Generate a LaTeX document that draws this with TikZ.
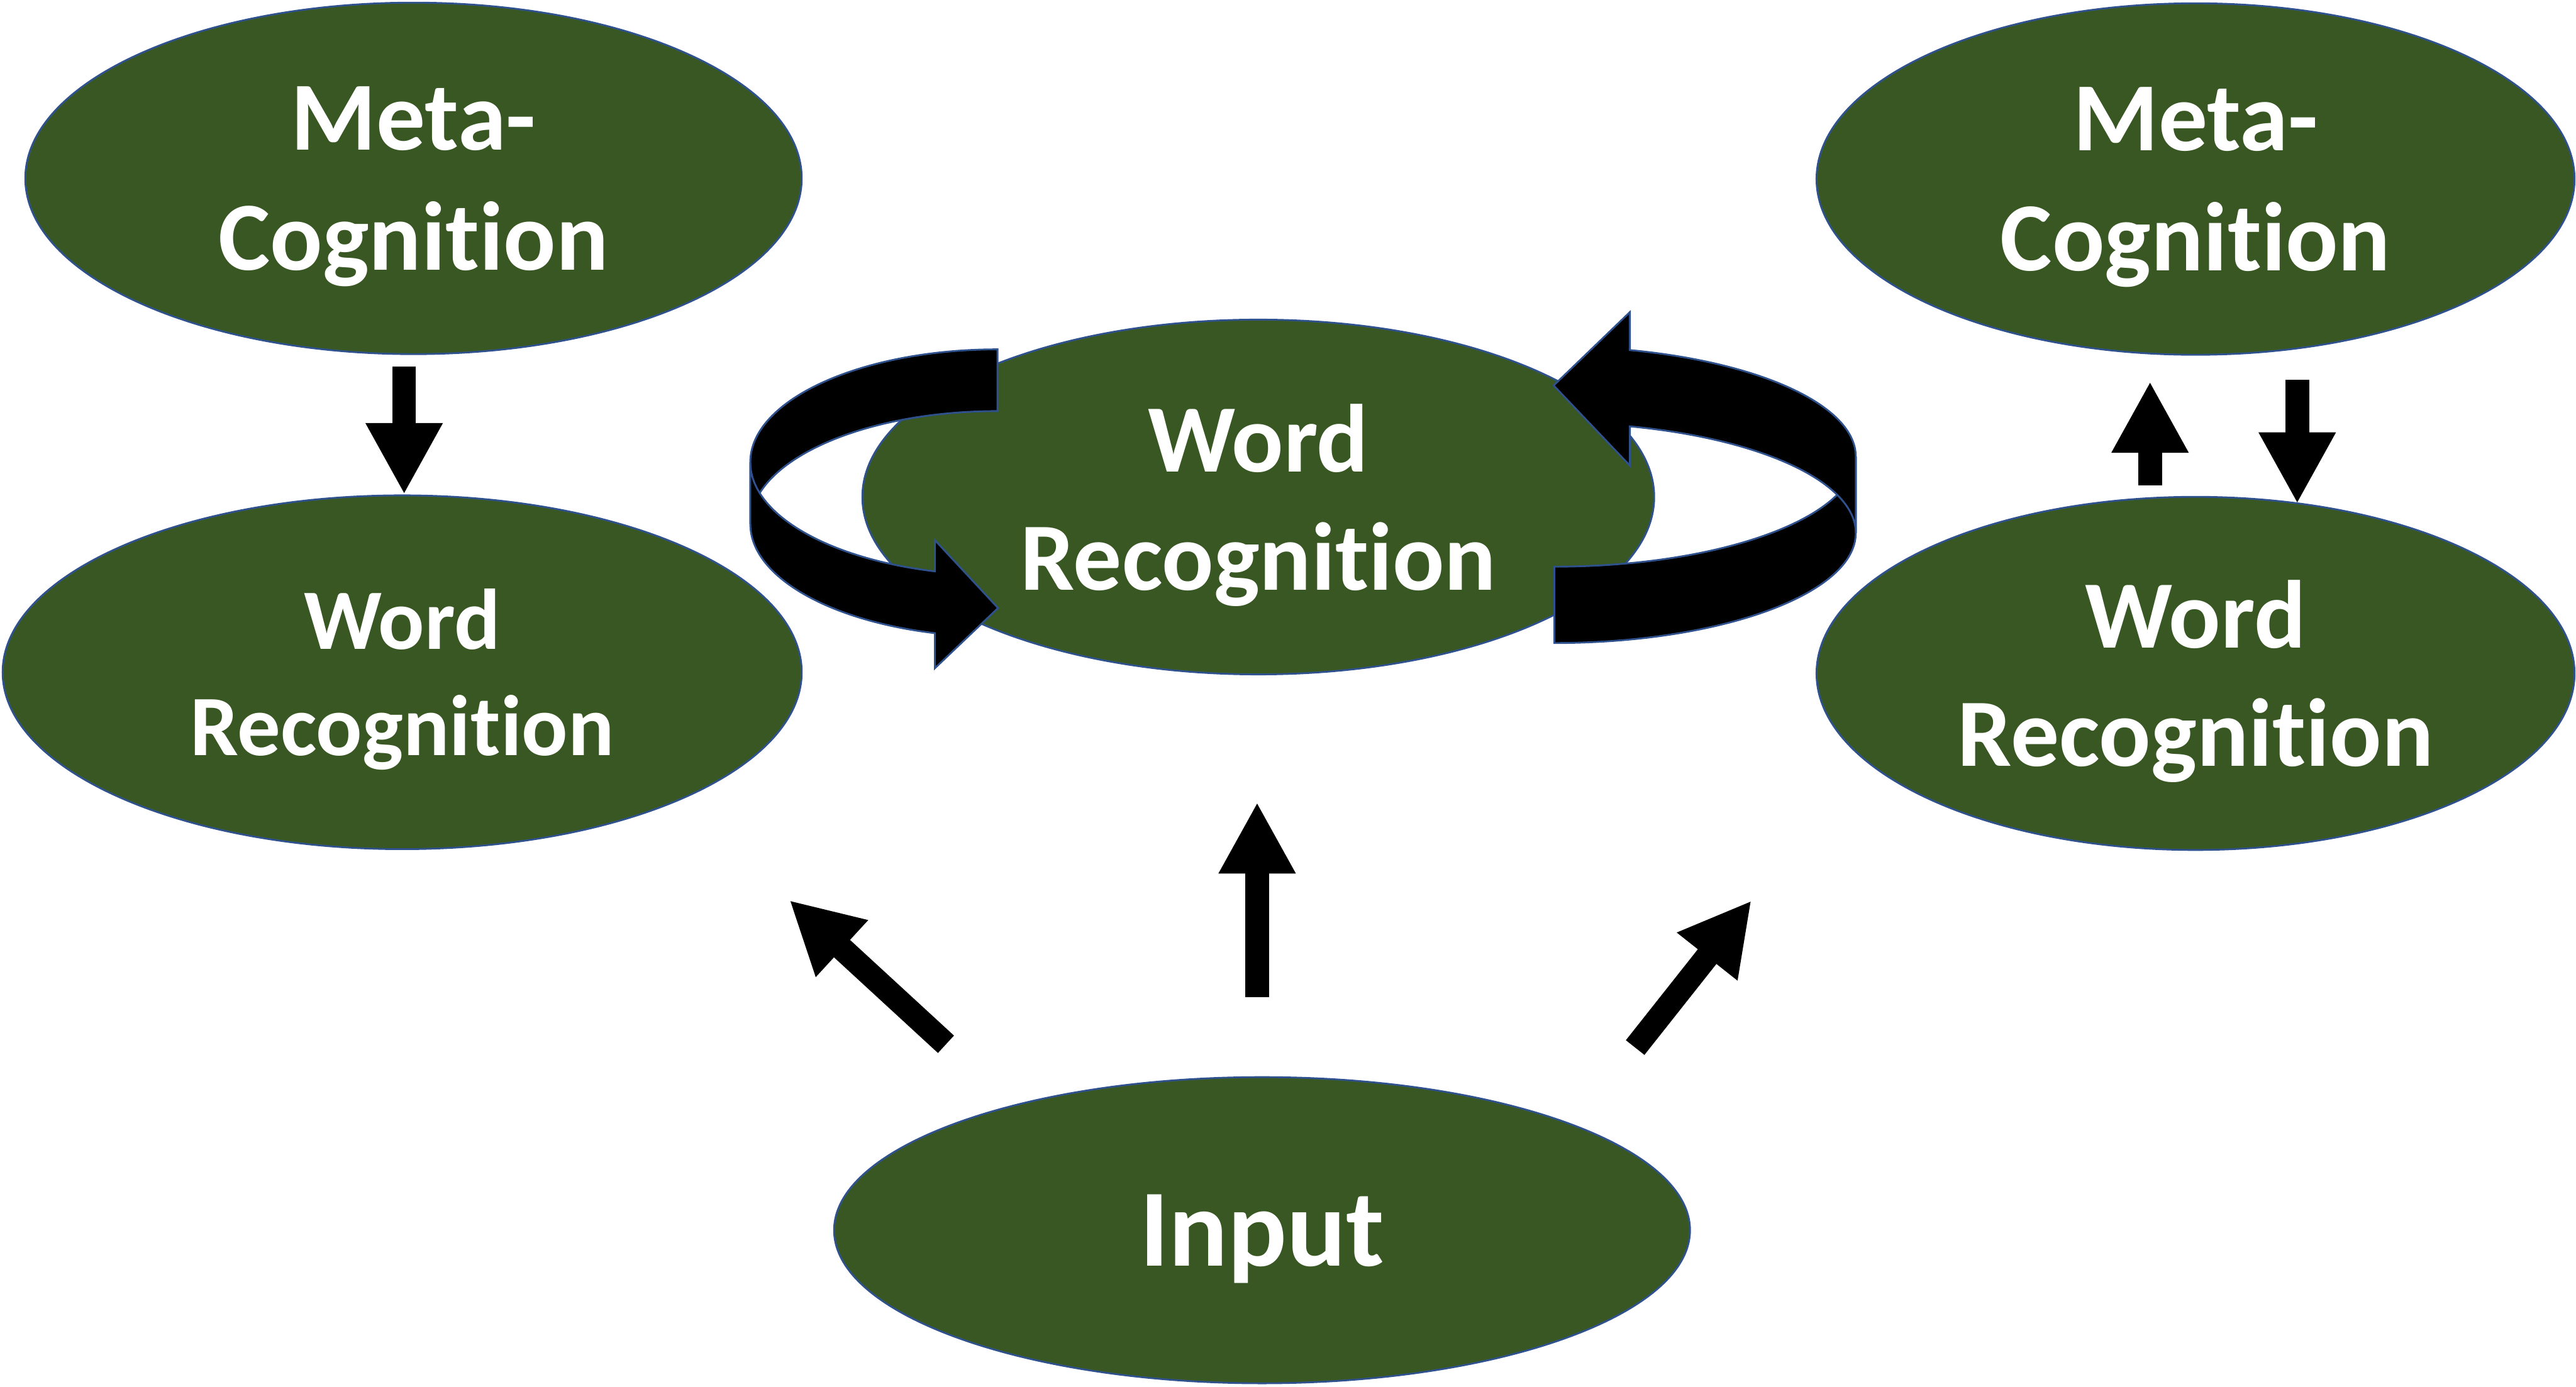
\documentclass[tikz,border=0pt]{standalone}
\usepackage{fontspec}
\setmainfont{Carlito}[Ligatures=NoCommon]
\usetikzlibrary{shapes.geometric,arrows.meta}
\definecolor{wrgreen}{HTML}{385723}
\definecolor{wrblue}{HTML}{2F528F}
\tikzset{
  blob/.style={ellipse, draw=wrblue, fill=wrgreen, line width=1.1pt,
    inner sep=0pt, text=white, align=center, text depth=0pt},
  metatext/.style={font=\fontsize{59.5}{73}\selectfont\bfseries},
  wordsmall/.style={font=\fontsize{52.4}{64.5}\selectfont\bfseries},
  wordtext/.style={font=\fontsize{58.8}{72}\selectfont\bfseries},
  inputtext/.style={font=\fontsize{67}{80}\selectfont\bfseries},
  blockarr/.style={line width=14.4pt, -{Triangle[length=43.5pt,width=43.8pt]}},
  loopband/.style={draw=wrblue, fill=black, line width=1.1pt},
}

\begin{document}
\begin{tikzpicture}[x=1pt,y=-1pt]
        \useasboundingbox (0,0) rectangle (1568,844.45);
        %
        \node[blob, metatext, minimum width=472.6pt, minimum height=214pt] (metal) at (251.7,108.6) {Meta-\\Cognition};
        \node[blob, wordsmall, minimum width=486.4pt, minimum height=215.4pt] (wordl) at (244.8,409.3) {Word\\Recognition};
        \node[blob, wordtext, minimum width=482pt, minimum height=216pt] (wordc) at (765.9,302.6) {Word\\Recognition};
        \node[blob, metatext, minimum width=461.4pt, minimum height=214pt] (metar) at (1336.4,109) {Meta-\\Cognition};
        \node[blob, wordtext, minimum width=461.4pt, minimum height=215pt] (wordr) at (1336.4,410) {Word\\Recognition};
        \node[blob, inputtext, minimum width=521pt, minimum height=186.4pt] (input) at (768.2,749) {Input};
        %
        % loop on the left of the centre
        \draw[loopband] (607.2,212.7) arc[start angle=270, end angle=180, x radius=150.5, y radius=68.7]
              -- (456.7,319) arc[start angle=180, end angle=270, x radius=150.5, y radius=68.7] -- cycle;
        \draw[loopband] (456.7,281.4) arc[start angle=180, end angle=104.67, x radius=150.5, y radius=68.7]
              -- (569.1,328.9) -- (607.5,370.2) -- (569.1,406.8) -- (569.1,385.5)
              arc[start angle=104.67, end angle=180, x radius=150.5, y radius=68.7] -- cycle;
        % loop on the right of the centre
        \draw[loopband] (946.1,345) arc[start angle=90, end angle=0, x radius=183.5, y radius=67]
              -- (1129.6,324.5) arc[start angle=0, end angle=90, x radius=183.5, y radius=67] -- cycle;
        \draw[loopband] (1129.6,278) arc[start angle=360, end angle=284.52, x radius=183.5, y radius=67]
              -- (992.1,190) -- (945.7,234.7) -- (992.1,283.5) -- (992.1,259.6)
              arc[start angle=284.52, end angle=360, x radius=183.5, y radius=67] -- cycle;
        %
        \coordinate (tl) at (246,223);
        \coordinate (ru) at (1308.7,295.5);
        \coordinate (ruh) at (1308.7,232.2);
        \coordinate (rd) at (1398.3,231.2);
        \coordinate (rdh) at (1398.3,306.7);
        \coordinate (cu) at (765.2,607.3);
        \coordinate (cuh) at (765.2,488.4);
        \coordinate (dl) at (575.8,635.8);
        \coordinate (dlh) at (480.5,548.1);
        \coordinate (dr) at (995.3,637.8);
        \coordinate (drh) at (1066.1,548.3);
        \draw[blockarr] (tl) -- (tl |- wordl.north);
        \draw[blockarr] (ru) -- (ruh);
        \draw[blockarr] (rd) -- (rdh);
        \draw[blockarr] (cu) -- (cuh);
        \draw[blockarr] (dl) -- (dlh);
        \draw[blockarr] (dr) -- (drh);
\end{tikzpicture}
\end{document}
